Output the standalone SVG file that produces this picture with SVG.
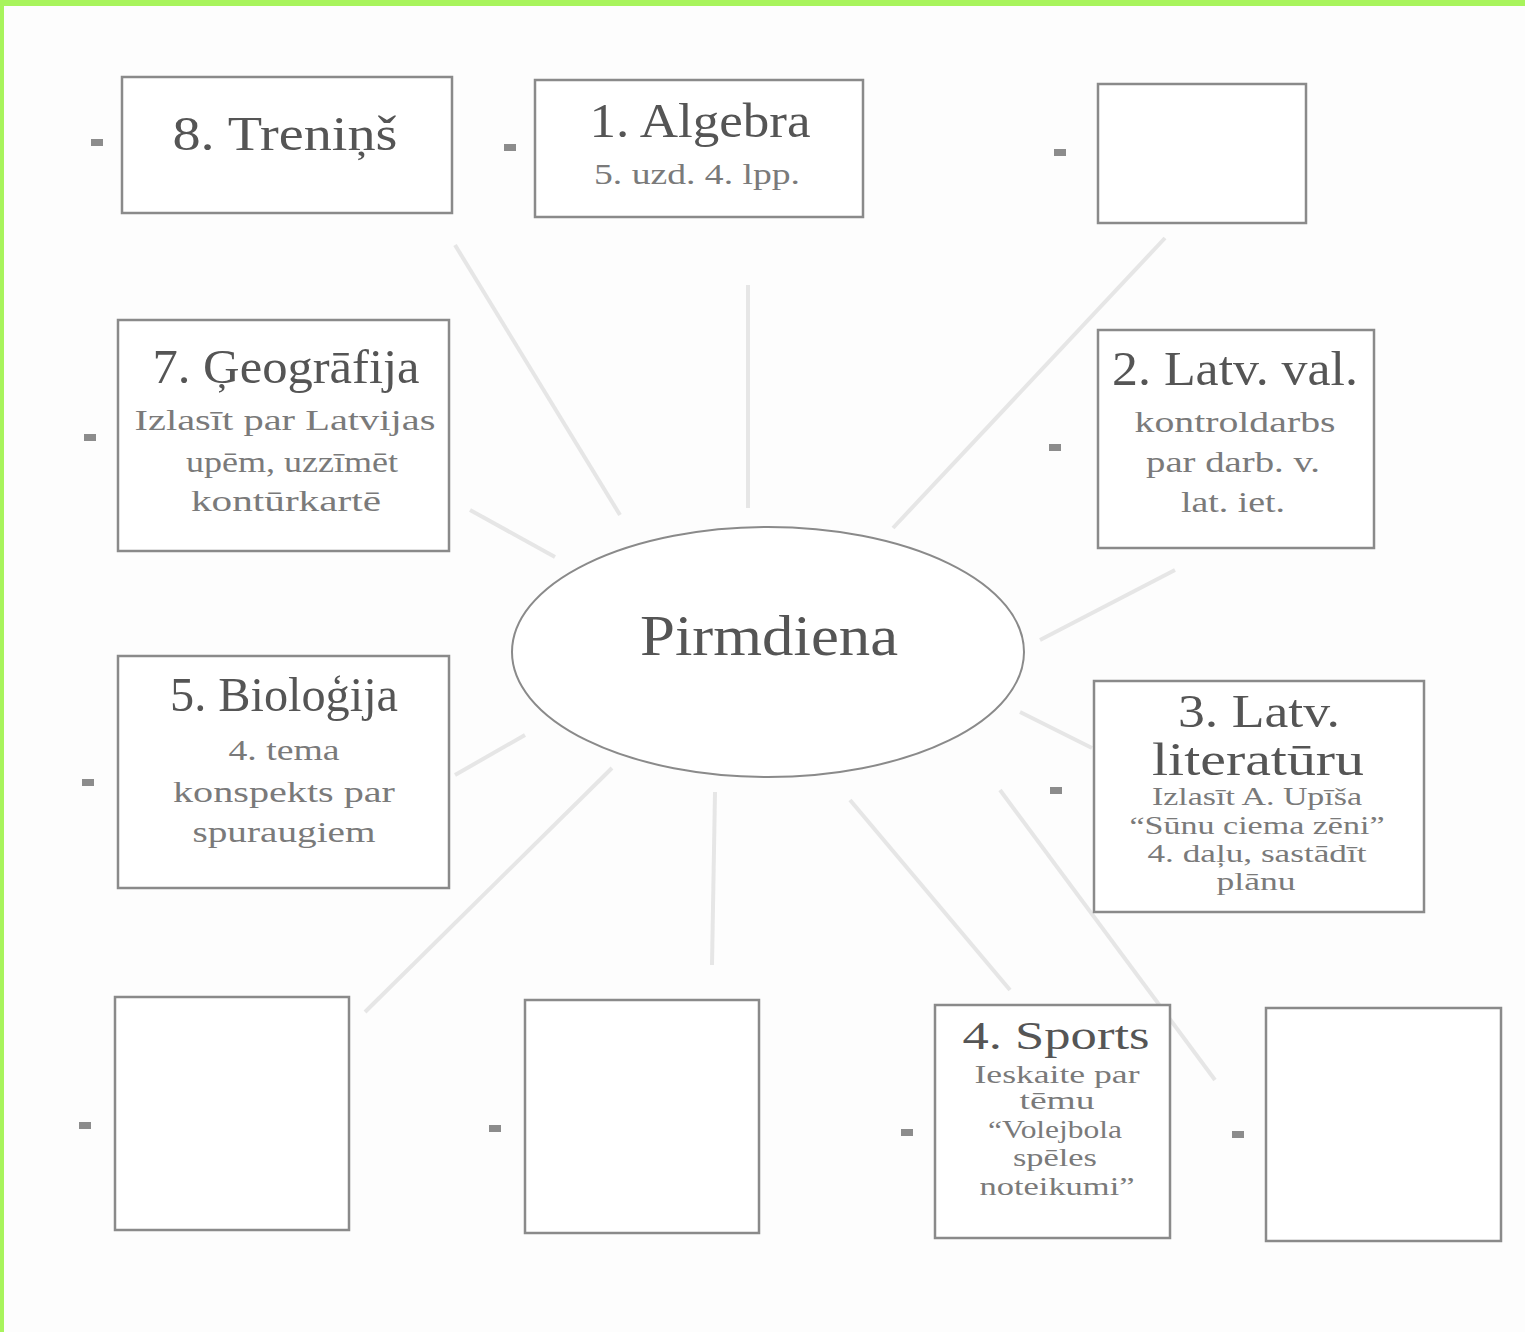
<svg xmlns="http://www.w3.org/2000/svg" width="1525" height="1332" viewBox="0 0 1525 1332">
<style>
.bx{fill:#ffffff;stroke:#8a8a8a;stroke-width:2.5}
.el{fill:#ffffff;stroke:#8a8a8a;stroke-width:2}
.cn{stroke:#e6e6e6;stroke-width:4;fill:none}
.mk{fill:#8c8c8c}
text{font-family:"Liberation Serif","DejaVu Serif",serif;text-anchor:middle}
.t{font-size:48px;fill:#555555}
.s{font-size:29px;fill:#7a7a7a}
.ss{font-size:25px;fill:#7a7a7a}
.c{font-size:56px;fill:#555555}
</style>
<rect x="0" y="0" width="1525" height="1332" fill="#fdfdfd"/>
<rect x="0" y="0" width="1525" height="6" fill="#a8f45c"/>
<rect x="0" y="0" width="4" height="1332" fill="#a8f45c"/>
<g id="connectors">
<line class="cn" x1="455" y1="245" x2="620" y2="515"/>
<line class="cn" x1="748" y1="285" x2="748" y2="508"/>
<line class="cn" x1="1165" y1="238" x2="893" y2="528"/>
<line class="cn" x1="470" y1="510" x2="555" y2="557"/>
<line class="cn" x1="1175" y1="570" x2="1040" y2="640"/>
<line class="cn" x1="455" y1="775" x2="525" y2="735"/>
<line class="cn" x1="612" y1="768" x2="365" y2="1012"/>
<line class="cn" x1="715" y1="792" x2="712" y2="965"/>
<line class="cn" x1="850" y1="800" x2="1010" y2="990"/>
<line class="cn" x1="1000" y1="790" x2="1215" y2="1080"/>
<line class="cn" x1="1020" y1="712" x2="1092" y2="748"/>
</g>
<g id="markers">
<rect class="mk" x="91" y="139" width="12" height="7"/>
<rect class="mk" x="504" y="144" width="12" height="7"/>
<rect class="mk" x="1054" y="149" width="12" height="7"/>
<rect class="mk" x="84" y="434" width="12" height="7"/>
<rect class="mk" x="1049" y="444" width="12" height="7"/>
<rect class="mk" x="82" y="779" width="12" height="7"/>
<rect class="mk" x="1050" y="787" width="12" height="7"/>
<rect class="mk" x="79" y="1122" width="12" height="7"/>
<rect class="mk" x="489" y="1125" width="12" height="7"/>
<rect class="mk" x="901" y="1129" width="12" height="7"/>
<rect class="mk" x="1232" y="1131" width="12" height="7"/>
</g>
<g id="center">
<ellipse class="el" cx="768" cy="652" rx="256" ry="125"/>
<text class="c" x="769" y="655" textLength="258" lengthAdjust="spacingAndGlyphs">Pirmdiena</text>
</g>
<g id="n8">
<rect class="bx" x="122" y="77" width="330" height="136"/>
<text class="t" x="285" y="150" textLength="225" lengthAdjust="spacingAndGlyphs">8. Treniņš</text>
</g>
<g id="n1">
<rect class="bx" x="535" y="80" width="328" height="137"/>
<text class="t" x="700" y="137" textLength="221" lengthAdjust="spacingAndGlyphs">1. Algebra</text>
<text class="s" x="697" y="184" textLength="206" lengthAdjust="spacingAndGlyphs">5. uzd. 4. lpp.</text>
</g>
<g id="nTR">
<rect class="bx" x="1098" y="84" width="208" height="139"/>
</g>
<g id="n7">
<rect class="bx" x="118" y="320" width="331" height="231"/>
<text class="t" x="286" y="383" textLength="267" lengthAdjust="spacingAndGlyphs">7. Ģeogrāfija</text>
<text class="s" x="285" y="430" textLength="301" lengthAdjust="spacingAndGlyphs">Izlasīt par Latvijas</text>
<text class="s" x="292" y="472" textLength="212" lengthAdjust="spacingAndGlyphs">upēm, uzzīmēt</text>
<text class="s" x="286" y="511" textLength="190" lengthAdjust="spacingAndGlyphs">kontūrkartē</text>
</g>
<g id="n2">
<rect class="bx" x="1098" y="330" width="276" height="218"/>
<text class="t" x="1235" y="385" textLength="246" lengthAdjust="spacingAndGlyphs">2. Latv. val.</text>
<text class="s" x="1235" y="432" textLength="201" lengthAdjust="spacingAndGlyphs">kontroldarbs</text>
<text class="s" x="1233" y="472" textLength="174" lengthAdjust="spacingAndGlyphs">par darb. v.</text>
<text class="s" x="1233" y="512" textLength="104" lengthAdjust="spacingAndGlyphs">lat. iet.</text>
</g>
<g id="n5">
<rect class="bx" x="118" y="656" width="331" height="232"/>
<text class="t" x="284" y="711" textLength="228" lengthAdjust="spacingAndGlyphs">5. Bioloģija</text>
<text class="s" x="284" y="760" textLength="111" lengthAdjust="spacingAndGlyphs">4. tema</text>
<text class="s" x="284" y="802" textLength="222" lengthAdjust="spacingAndGlyphs">konspekts par</text>
<text class="s" x="284" y="842" textLength="183" lengthAdjust="spacingAndGlyphs">spuraugiem</text>
</g>
<g id="n3">
<rect class="bx" x="1094" y="681" width="330" height="231"/>
<text class="t" x="1259" y="727" textLength="162" lengthAdjust="spacingAndGlyphs" style="font-size:46px">3. Latv.</text>
<text class="t" x="1258" y="775" textLength="212" lengthAdjust="spacingAndGlyphs" style="font-size:46px">literatūru</text>
<text class="ss" x="1257" y="805" textLength="210" lengthAdjust="spacingAndGlyphs">Izlasīt A. Upīša</text>
<text class="ss" x="1257" y="834" textLength="255" lengthAdjust="spacingAndGlyphs">“Sūnu ciema zēni”</text>
<text class="ss" x="1257" y="862" textLength="219" lengthAdjust="spacingAndGlyphs">4. daļu, sastādīt</text>
<text class="ss" x="1256" y="890" textLength="79" lengthAdjust="spacingAndGlyphs">plānu</text>
</g>
<g id="nBL">
<rect class="bx" x="115" y="997" width="234" height="233"/>
</g>
<g id="nBM">
<rect class="bx" x="525" y="1000" width="234" height="233"/>
</g>
<g id="n4">
<rect class="bx" x="935" y="1005" width="235" height="233"/>
<text class="t" x="1056" y="1049" textLength="187" lengthAdjust="spacingAndGlyphs" style="font-size:40px">4. Sports</text>
<text class="ss" x="1057" y="1083" textLength="165" lengthAdjust="spacingAndGlyphs">Ieskaite par</text>
<text class="ss" x="1057" y="1109" textLength="75" lengthAdjust="spacingAndGlyphs">tēmu</text>
<text class="ss" x="1055" y="1138" textLength="134" lengthAdjust="spacingAndGlyphs">“Volejbola</text>
<text class="ss" x="1055" y="1166" textLength="84" lengthAdjust="spacingAndGlyphs">spēles</text>
<text class="ss" x="1057" y="1195" textLength="155" lengthAdjust="spacingAndGlyphs">noteikumi”</text>
</g>
<g id="nBR">
<rect class="bx" x="1266" y="1008" width="235" height="233"/>
</g>
</svg>
